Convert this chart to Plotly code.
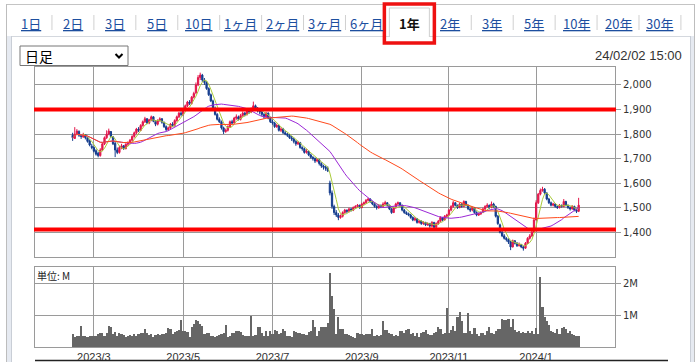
import pandas as pd
import plotly.graph_objects as go

# ---------------- data ----------------
period_tabs = ["1日", "2日", "3日", "5日", "10日", "1ヶ月", "2ヶ月", "3ヶ月", "6ヶ月",
               "1年", "2年", "3年", "5年", "10年", "20年", "30年"]
active_tab = "1年"
timestamp = "24/02/02 15:00"
chart_type = "日足"
volume_unit = "単位: M"

start_date = "2023-02-14"
end_date = "2024-02-02"
market_holidays = ["2023-02-23", "2023-03-21", "2023-05-03", "2023-05-04", "2023-05-05",
                   "2023-07-17", "2023-08-11", "2023-09-18", "2023-10-09", "2023-11-03",
                   "2023-11-23", "2024-01-01", "2024-01-02", "2024-01-03", "2024-01-08"]
tick_months = ["2023-03-01", "2023-05-01", "2023-07-01", "2023-09-01", "2023-11-01", "2024-01-01"]
tick_labels = ["2023/3", "2023/5", "2023/7", "2023/9", "2023/11", "2024/1"]
price_ticks = [1400, 1500, 1600, 1700, 1800, 1900, 2000]
volume_ticks = [1, 2]
volume_tick_labels = ["1M", "2M"]
resistance_level = 1900
support_level = 1411

open_ = [
    1795, 1782, 1800, 1810, 1795, 1788, 1798,
    1785, 1772, 1750, 1745, 1732, 1722,
    1712, 1735, 1760, 1785, 1800,
    1810, 1788, 1762, 1735,
    1725, 1745, 1752, 1740, 1758, 1765,
    1775, 1790, 1805, 1820, 1815, 1835, 1850,
    1862, 1845, 1858, 1870, 1852, 1840, 1855, 1862, 1848,
    1830, 1818, 1825, 1840, 1835,
    1855, 1870, 1885, 1880, 1900, 1915, 1930, 1925, 1950,
    1968, 2000, 2030,
    2040, 2020, 2010, 1985, 1960,
    1935, 1905, 1880, 1860,
    1850, 1825, 1810, 1815,
    1830, 1850, 1845, 1865, 1870,
    1860, 1875, 1885, 1880, 1895, 1890, 1900, 1915, 1905, 1895,
    1890, 1880, 1870, 1885,
    1865, 1850, 1845, 1830, 1835, 1815, 1820, 1805, 1800, 1795, 1785,
    1780, 1770, 1760, 1765, 1745, 1740, 1725, 1730, 1715, 1705, 1700, 1690, 1695, 1680, 1670,
    1665, 1660, 1600, 1560,
    1505, 1480, 1470, 1460,
    1465, 1480, 1490, 1485, 1495,
    1490, 1500, 1505, 1510, 1500, 1515, 1520, 1530, 1535,
    1525, 1515, 1505, 1500, 1510, 1505,
    1515, 1520, 1510, 1495, 1480, 1500, 1515, 1520,
    1510, 1490, 1480,
    1475, 1470, 1460, 1450, 1455, 1440, 1445, 1435, 1440, 1430,
    1435, 1425, 1440, 1420,
    1435, 1445, 1460, 1450, 1465,
    1470, 1490, 1505, 1520,
    1510, 1500, 1515, 1505, 1525, 1510, 1495, 1490,
    1500, 1480, 1470, 1475,
    1480, 1495, 1505, 1510, 1500, 1515,
    1505, 1465,
    1430, 1400, 1385, 1375, 1370, 1360, 1340,
    1365, 1355, 1345, 1350, 1340, 1335,
    1355, 1375, 1385,
    1400, 1450, 1520, 1555,
    1570, 1575,
    1560, 1535, 1520, 1510, 1515, 1505, 1500,
    1510, 1505, 1525, 1510, 1500, 1495, 1505, 1490, 1485,
]

high = [
    1805, 1828, 1820, 1815, 1800, 1805, 1800,
    1788, 1778, 1760, 1750, 1738, 1728,
    1742, 1765, 1790, 1815, 1822,
    1812, 1792, 1768, 1745,
    1752, 1760, 1755, 1762, 1770, 1780,
    1795, 1810, 1825, 1828, 1840, 1855, 1870,
    1865, 1862, 1875, 1872, 1856, 1860, 1868, 1865, 1850,
    1835, 1830, 1845, 1848, 1860,
    1875, 1890, 1892, 1905, 1920, 1935, 1938, 1955, 1972,
    2010, 2040, 2050,
    2045, 2028, 2015, 1990, 1965,
    1940, 1912, 1885, 1868,
    1855, 1830, 1822, 1835,
    1855, 1858, 1870, 1880, 1875,
    1882, 1892, 1890, 1900, 1900, 1908, 1932, 1920, 1910, 1902,
    1895, 1885, 1890, 1888,
    1870, 1858, 1850, 1842, 1838, 1828, 1825, 1812, 1805, 1800, 1792,
    1785, 1775, 1772, 1768, 1750, 1745, 1738, 1732, 1720, 1710, 1705, 1702, 1698, 1685, 1675,
    1672, 1668, 1610, 1570,
    1512, 1490, 1478, 1472,
    1485, 1495, 1492, 1500, 1498,
    1505, 1510, 1515, 1512, 1520, 1525, 1535, 1540, 1538,
    1528, 1518, 1510, 1515, 1512, 1522,
    1528, 1522, 1512, 1498, 1505, 1520, 1525, 1522,
    1512, 1495, 1485,
    1480, 1475, 1465, 1462, 1458, 1450, 1448, 1445, 1442, 1440,
    1438, 1445, 1442, 1440,
    1450, 1465, 1462, 1470, 1475,
    1495, 1510, 1528, 1522,
    1512, 1520, 1518, 1530, 1528, 1512, 1498, 1505,
    1502, 1485, 1480, 1485,
    1500, 1510, 1518, 1512, 1525, 1520,
    1508, 1470,
    1435, 1405, 1392, 1380, 1375, 1365, 1370,
    1368, 1360, 1358, 1352, 1345, 1360,
    1380, 1392, 1405,
    1460, 1530, 1560, 1578,
    1585, 1580,
    1562, 1540, 1525, 1520, 1518, 1508, 1515,
    1512, 1535, 1528, 1512, 1505, 1510, 1508, 1495, 1540,
]

low = [
    1772, 1780, 1795, 1788, 1780, 1785, 1778,
    1765, 1750, 1738, 1725, 1712, 1705,
    1708, 1730, 1755, 1780, 1795,
    1785, 1755, 1706, 1718,
    1720, 1738, 1735, 1738, 1750, 1760,
    1770, 1785, 1800, 1808, 1812, 1830, 1845,
    1840, 1840, 1852, 1848, 1832, 1835, 1850, 1842, 1825,
    1812, 1812, 1820, 1830, 1830,
    1850, 1865, 1872, 1875, 1895, 1910, 1918, 1920, 1945,
    1962, 1995, 2020,
    2012, 2000, 1980, 1955, 1930,
    1900, 1875, 1855, 1845,
    1818, 1800, 1805, 1810,
    1825, 1840, 1842, 1858, 1855,
    1855, 1870, 1872, 1875, 1882, 1885, 1895, 1898, 1888, 1880,
    1872, 1862, 1865, 1860,
    1845, 1838, 1825, 1825, 1810, 1808, 1800, 1795, 1788, 1780, 1772,
    1762, 1752, 1755, 1740, 1732, 1720, 1720, 1710, 1700, 1692, 1682, 1685, 1672, 1662, 1655,
    1650, 1645, 1550, 1495,
    1470, 1462, 1449, 1455,
    1460, 1475, 1478, 1480, 1484,
    1486, 1495, 1500, 1495, 1498, 1510, 1515, 1525, 1520,
    1510, 1500, 1492, 1495, 1498, 1500,
    1510, 1505, 1490, 1475, 1478, 1495, 1510, 1505,
    1485, 1475, 1470,
    1465, 1455, 1445, 1445, 1435, 1435, 1430, 1430, 1425, 1426,
    1418, 1420, 1415, 1418,
    1430, 1440, 1445, 1448, 1460,
    1468, 1485, 1500, 1505,
    1495, 1498, 1500, 1502, 1505, 1490, 1482, 1485,
    1475, 1465, 1466, 1470,
    1478, 1490, 1500, 1495, 1498, 1500,
    1460, 1430,
    1395, 1380, 1370, 1362, 1352, 1327, 1338,
    1350, 1340, 1342, 1335, 1325, 1332,
    1352, 1370, 1380,
    1398, 1448, 1515, 1550,
    1565, 1555,
    1530, 1515, 1505, 1505, 1500, 1495, 1497,
    1500, 1502, 1505, 1495, 1488, 1492, 1485, 1478, 1482,
]

close = [
    1785, 1800, 1812, 1795, 1790, 1798, 1785,
    1770, 1755, 1745, 1730, 1718, 1712,
    1735, 1760, 1785, 1800, 1812,
    1790, 1760, 1735, 1725,
    1745, 1752, 1740, 1758, 1765, 1775,
    1790, 1805, 1820, 1815, 1835, 1850, 1862,
    1845, 1858, 1870, 1852, 1840, 1855, 1862, 1848, 1830,
    1818, 1825, 1840, 1835, 1855,
    1870, 1885, 1880, 1900, 1915, 1930, 1925, 1950, 1965,
    2000, 2030, 2040,
    2020, 2010, 1985, 1960, 1935,
    1905, 1880, 1860, 1850,
    1825, 1810, 1815, 1830,
    1850, 1845, 1865, 1870, 1860,
    1875, 1885, 1880, 1895, 1890, 1900, 1915, 1905, 1895, 1890,
    1880, 1870, 1885, 1865,
    1850, 1845, 1830, 1835, 1815, 1820, 1805, 1800, 1795, 1785, 1780,
    1770, 1760, 1765, 1745, 1740, 1725, 1730, 1715, 1705, 1700, 1690, 1695, 1680, 1670, 1665,
    1660, 1650, 1560, 1505,
    1480, 1470, 1460, 1465,
    1480, 1490, 1485, 1495, 1490,
    1500, 1505, 1510, 1500, 1515, 1520, 1530, 1535, 1525,
    1515, 1505, 1500, 1510, 1505, 1515,
    1520, 1510, 1495, 1480, 1500, 1515, 1520, 1510,
    1490, 1480, 1475,
    1470, 1460, 1450, 1455, 1440, 1445, 1435, 1440, 1430, 1435,
    1425, 1440, 1420, 1435,
    1445, 1460, 1450, 1465, 1470,
    1490, 1505, 1520, 1510,
    1500, 1515, 1505, 1525, 1510, 1495, 1490, 1500,
    1480, 1470, 1475, 1480,
    1495, 1505, 1510, 1500, 1515, 1505,
    1465, 1435,
    1400, 1385, 1375, 1370, 1360, 1340, 1365,
    1355, 1345, 1350, 1340, 1335, 1355,
    1375, 1385, 1400,
    1450, 1520, 1555, 1570,
    1575, 1560,
    1535, 1520, 1510, 1515, 1505, 1500, 1510,
    1505, 1525, 1510, 1500, 1495, 1505, 1490, 1485, 1510,
]

volume_m = [
    0.40, 0.30, 0.33, 0.35, 0.66, 0.33, 0.35, 0.32, 0.35, 0.35,
    0.33, 0.35, 0.40, 0.43, 0.45, 0.35, 0.45, 0.66, 0.64, 0.40,
    0.48, 0.33, 0.43, 0.40, 0.37, 0.30, 0.33, 0.37, 0.35, 0.40,
    0.33, 0.40, 0.45, 0.45, 0.56, 0.45, 0.37, 0.40, 0.30, 0.37,
    0.40, 0.37, 0.40, 0.40, 0.45, 0.58, 0.56, 0.40, 0.48, 0.50,
    0.53, 0.84, 0.50, 0.50, 0.48, 0.30, 0.61, 0.72, 0.85, 0.80,
    0.72, 0.66, 0.40, 0.45, 0.45, 0.35, 0.35, 0.30, 0.33, 0.37,
    0.40, 0.43, 0.69, 0.30, 0.35, 0.43, 0.43, 0.50, 0.50, 0.48,
    0.37, 0.33, 0.35, 0.35, 0.96, 0.35, 0.37, 0.63, 0.61, 0.45,
    0.33, 0.50, 0.35, 0.50, 0.40, 0.54, 0.50, 0.40, 0.45, 0.56,
    0.50, 0.35, 0.33, 0.30, 0.50, 0.48, 0.45, 0.43, 0.42, 0.42,
    0.37, 0.47, 0.50, 0.85, 0.61, 0.35, 0.50, 0.61, 0.64, 0.63,
    0.74, 2.32, 1.58, 1.19, 0.40, 0.93, 0.56, 0.56, 0.40, 0.40,
    0.37, 0.35, 0.30, 0.27, 0.43, 0.40, 0.40, 0.37, 0.40, 0.40,
    0.42, 0.56, 0.35, 0.37, 0.35, 0.37, 0.80, 0.54, 0.54, 0.43,
    0.42, 0.35, 0.37, 0.33, 0.50, 0.50, 0.43, 0.53, 0.56, 0.40,
    0.45, 0.35, 0.43, 0.30, 0.43, 0.48, 0.53, 0.40, 0.37, 0.37,
    0.43, 0.48, 0.61, 0.56, 0.40, 0.43, 1.21, 0.43, 0.54, 0.66,
    0.50, 0.95, 1.08, 0.82, 0.45, 0.43, 1.05, 0.50, 0.40, 0.58,
    0.40, 0.35, 0.43, 0.45, 0.37, 0.50, 0.63, 0.45, 0.40, 0.50,
    0.56, 0.56, 0.87, 0.84, 0.85, 0.87, 0.61, 0.89, 0.53, 0.48,
    0.50, 0.45, 0.48, 0.43, 0.50, 0.45, 0.50, 0.40, 0.58, 0.40,
    2.19, 1.24, 0.95, 0.80, 0.69, 0.50, 0.48, 0.45, 0.56, 0.40,
    0.58, 0.61, 0.56, 0.43, 0.50, 0.40, 0.37, 0.35, 0.35,
]

ma_windows = [5, 25, 75]

# ---------------- derived ----------------
n = len(close)
for name, arr in [("open", open_), ("high", high), ("low", low), ("volume", volume_m)]:
    if len(arr) != n:
        raise ValueError(f"{name} has {len(arr)} values, close has {n}")
dates = pd.bdate_range(start_date, end_date, freq="C", holidays=market_holidays)
if len(dates) != n:
    raise ValueError(f"dates {len(dates)} vs close {n}")
xi = list(range(n))
tick_pos = [int((dates >= pd.Timestamp(m)).argmax()) for m in tick_months]
ma_series = [pd.Series(close).rolling(w, min_periods=1).mean().tolist() for w in ma_windows]

# ---------------- style / geometry ----------------
W, H = 700, 362
def PX(x): return x / W
def PY(y): return 1 - y / H

UP = "#e3174b"
DN = "#153d8e"
MA_COLORS = ["#aacb3a", "#9b27d6", "#ff4a1c"]
GRID = "#9a9a9a"
LINK = "#1d4f9f"
JP = "Noto Sans CJK JP"

fig = go.Figure()
fig.add_trace(go.Candlestick(
    x=xi, open=open_, high=high, low=low, close=close,
    increasing=dict(line=dict(color=UP, width=1), fillcolor=UP),
    decreasing=dict(line=dict(color=DN, width=1), fillcolor=DN),
    whiskerwidth=0, hoverinfo="skip", xaxis="x", yaxis="y", showlegend=False))
for ma, col in zip(ma_series, MA_COLORS):
    fig.add_trace(go.Scatter(x=xi, y=ma, mode="lines", line=dict(color=col, width=1),
                             hoverinfo="skip", xaxis="x", yaxis="y", showlegend=False))
fig.add_trace(go.Bar(x=xi, y=volume_m, width=1, marker=dict(color="#666666", line=dict(width=0)),
                     hoverinfo="skip", xaxis="x2", yaxis="y2", showlegend=False))

xdom = [PX(35), PX(615)]
axis_common = dict(showgrid=True, gridcolor=GRID, gridwidth=1, showline=True, mirror=True,
                   linecolor=GRID, linewidth=1, zeroline=False, automargin=False)
fig.update_layout(
    template="none",
    width=W, height=H, autosize=False, margin=dict(l=0, r=0, t=0, b=0, pad=0, autoexpand=False),
    paper_bgcolor="white", plot_bgcolor="white", bargap=0, boxgap=0.15, showlegend=False,
    hovermode=False,
    xaxis=dict(domain=xdom, anchor="y", range=[-17.7, 255.1], tickvals=tick_pos,
               showticklabels=False, ticks="", rangeslider=dict(visible=False), **axis_common),
    yaxis=dict(domain=[PY(257), PY(67)], anchor="x", range=[1299, 2073], side="right",
               tickvals=price_ticks, tickformat=",", ticks="outside", ticklen=5, tickcolor=GRID,
               tickfont=dict(family="DejaVu Sans", size=10, color="#333"), **axis_common),
    xaxis2=dict(domain=xdom, anchor="y2", matches="x", tickvals=tick_pos, ticktext=tick_labels,
                ticks="", tickfont=dict(family="Liberation Sans", size=11, color="#333"),
                rangeslider=dict(visible=False), **axis_common),
    yaxis2=dict(domain=[PY(347), PY(267)], anchor="x2", range=[0, 2.5], side="right",
                tickvals=volume_ticks, ticktext=volume_tick_labels, ticks="outside", ticklen=5,
                tickcolor=GRID, tickfont=dict(family="DejaVu Sans", size=10, color="#333"),
                **axis_common),
)

shapes = []
annotations = []
def rect(x0, y0, x1, y1, line=None, fill=None, lw=1):
    shapes.append(dict(type="rect", xref="paper", yref="paper", x0=PX(x0), x1=PX(x1),
                       y0=PY(y1), y1=PY(y0), line=dict(color=line or "rgba(0,0,0,0)", width=lw if line else 0),
                       fillcolor=fill or "rgba(0,0,0,0)", layer="below"))
def hline(x0, x1, y, color, lw=1, layer="below"):
    shapes.append(dict(type="line", xref="paper", yref="paper", x0=PX(x0), x1=PX(x1),
                       y0=PY(y), y1=PY(y), line=dict(color=color, width=lw), layer=layer))
def vline(x, y0, y1, color, lw=1, layer="below"):
    shapes.append(dict(type="line", xref="paper", yref="paper", x0=PX(x), x1=PX(x),
                       y0=PY(y0), y1=PY(y1), line=dict(color=color, width=lw), layer=layer))
def text(x, y, s, font, xanchor="center"):
    annotations.append(dict(x=PX(x), y=PY(y), xref="paper", yref="paper", text=s, showarrow=False,
                            xanchor=xanchor, yanchor="middle", font=font, borderpad=0))

# outer frame & side bands
rect(6, 36, 11, 370, fill="#e6eaf1")
rect(691, 36, 695, 370, fill="#e6eaf1")
hline(6, 695, 4.5, "#c4c4c4")
vline(6.5, 4, 370, "#bdbdbd")
vline(694.5, 4, 370, "#bdbdbd")
hline(11, 691, 36.5, "#d4d8de")
vline(11.5, 36, 370, "#c9ced6")
vline(690.5, 36, 370, "#c9ced6")

# tabs
tab_x0, tab_dx = 31, 41.93
for i, lab in enumerate(period_tabs):
    cx = tab_x0 + i * tab_dx
    if lab == active_tab:
        shapes.append(dict(type="path", xref="paper", yref="paper",
                           path=f"M{PX(cx-19)},{PY(37)} L{PX(cx-19)},{PY(8)} L{PX(cx+21)},{PY(8)} L{PX(cx+21)},{PY(37)}",
                           line=dict(color="#cfcfcf", width=1), fillcolor="white", layer="below"))
        text(cx + 1, 23, f"<b>{lab}</b>", dict(family=JP, size=13, color="#111"))
        shapes.append(dict(type="rect", xref="paper", yref="paper", x0=PX(cx - 24), x1=PX(cx + 26),
                           y0=PY(43), y1=PY(4), line=dict(color="#ee1111", width=3.5), layer="above"))
    else:
        text(cx, 23, lab, dict(family=JP, size=13, color=LINK, lineposition="under"))
    sx = cx + tab_dx / 2
    nxt = period_tabs[i + 1] if i + 1 < len(period_tabs) else None
    if lab != active_tab and nxt != active_tab:
        vline(sx, 15, 30, "#d0d0d0")

# dropdown
shapes.append(dict(type="rect", xref="paper", yref="paper", x0=PX(20), x1=PX(128), y0=PY(65.5), y1=PY(46),
                   line=dict(color="#767676", width=1), fillcolor="white", layer="below"))
text(24, 56, chart_type, dict(family=JP, size=14, color="#000"), xanchor="left")
shapes.append(dict(type="path", xref="paper", yref="paper",
                   path=f"M{PX(115.5)},{PY(54)} L{PX(119)},{PY(57.5)} L{PX(122.5)},{PY(54)}",
                   line=dict(color="#000", width=2)))

# timestamp
text(683, 55, timestamp, dict(family="Liberation Sans", size=13, color="#333"), xanchor="right")
# volume unit
text(36, 275.5, volume_unit, dict(family=JP, size=10, color="#222"), xanchor="left")

# red support / resistance lines
for lvl in [resistance_level, support_level]:
    shapes.append(dict(type="line", xref="paper", yref="y", x0=PX(34), x1=PX(616), y0=lvl, y1=lvl,
                       line=dict(color="#ff0000", width=4), layer="above"))

# bottom black rule
hline(35, 668, 360.5, "#222", lw=1.5, layer="above")

fig.update_layout(shapes=shapes, annotations=annotations)
fig.write_html("out.html", include_plotlyjs=True, config={"displayModeBar": False},
               post_script="document.body.style.margin='0';document.body.style.padding='0';"
                           "document.body.style.overflow='hidden';")
